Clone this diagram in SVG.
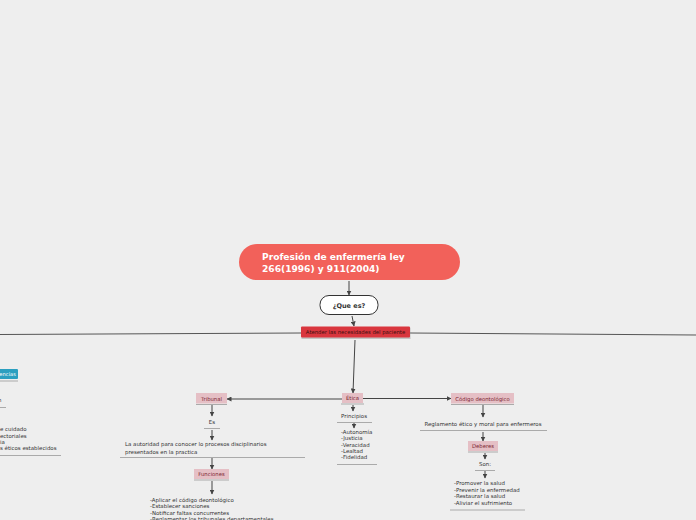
<svg xmlns="http://www.w3.org/2000/svg" width="696" height="520" viewBox="0 0 696 520">
<style>
text{font-family:"DejaVu Sans",Verdana,sans-serif;}
.t{font-size:5.45px;fill:#333;}
.pk{fill:#e5bfc5;}
.pkt{font-size:5.3px;fill:#7a2430;text-anchor:middle;}
.ul{stroke:#aaaaaa;stroke-width:1;fill:none;}
.c{stroke:#444;stroke-width:1;fill:none;marker-end:url(#a);}
.ln{stroke:#555;stroke-width:1;fill:none;}
</style>
<defs>
<marker id="a" viewBox="0 0 10 10" refX="9" refY="5" markerWidth="5" markerHeight="5" orient="auto" markerUnits="userSpaceOnUse">
<path d="M0,0 L10,5 L0,10 z" fill="#444"/>
</marker>
</defs>
<rect width="696" height="520" fill="#eeeeee"/>
<g id="connectors">
<path class="c" d="M349,281 L349,295"/>
<path class="c" d="M352,316 L354,326"/>
<path class="ln" d="M301,333 L0,334.5"/>
<path class="ln" d="M410,333 L696,335"/>
<path class="c" d="M355,340 L353,393"/>
<path class="c" d="M342,399 L227,399"/>
<path class="c" d="M363,398.5 L451,398.5"/>
<path class="c" d="M212,405 L212,416"/>
<path class="c" d="M212,430 L212,440"/>
<path class="c" d="M212,458 L212,469"/>
<path class="c" d="M212,481 L212,494"/>
<path class="c" d="M353,405 L353,411"/>
<path class="c" d="M354,423 L354,428"/>
<path class="c" d="M483,405 L483,417"/>
<path class="c" d="M483,432 L483,441"/>
<path class="c" d="M485,453 L485,459"/>
<path class="c" d="M485,471 L485,478"/>
</g>
<g id="n-title">
<rect x="239" y="244" width="221" height="36" rx="18" fill="#f2615a"/>
<text x="262" y="260" font-size="9.1" font-weight="bold" fill="#fff">Profesión de enfermería ley</text>
<text x="262" y="271.5" font-size="9.1" font-weight="bold" fill="#fff">266(1996) y 911(2004)</text>
</g>
<g id="n-que">
<rect x="320" y="295.5" width="58" height="19" rx="9" fill="#fff" stroke="#333" stroke-width="1"/>
<text x="349" y="307.5" font-size="6.5" font-weight="bold" fill="#333" text-anchor="middle">¿Que es?</text>
</g>
<g id="n-atender">
<rect x="301.5" y="328" width="109" height="11" fill="#999" opacity="0.5"/>
<rect x="301" y="326.5" width="109" height="11" rx="1" fill="#d9363e"/>
<text x="355.5" y="334" font-size="5.3" fill="#3a1010" text-anchor="middle">Atender las necesidades del paciente</text>
</g>
<g id="n-competencias">
<rect x="-5" y="369" width="23" height="10" rx="1" fill="#2b9fc0"/>
<text x="16" y="376" font-size="5.2" fill="#fff" text-anchor="end">Competencias</text>
<path class="ul" d="M0,381 L18,381"/>
<text class="t" x="-2" y="402">n</text>
<path class="ul" d="M0,407.5 L6,407.5"/>
<text class="t" x="0" y="431">e cuidado</text>
<text class="t" x="0" y="437.5">ectoriales</text>
<text class="t" x="0" y="443.5">ia</text>
<text class="t" x="0" y="450">s éticos establecidos</text>
<path class="ul" d="M0,455.5 L61,455.5"/>
</g>
<g id="n-etica">
<rect x="342" y="393" width="21" height="10" class="pk"/>
<path class="ul" d="M341,404 L364,404"/>
<text class="pkt" x="352.5" y="400">Ética</text>
<text class="t" x="354" y="417.5" text-anchor="middle">Principios</text>
<path class="ul" d="M337,422.5 L372,422.5"/>
<text class="t" x="341" y="434">-Autonomía</text>
<text class="t" x="341" y="440">-Justicia</text>
<text class="t" x="341" y="446.5">-Veracidad</text>
<text class="t" x="341" y="452.5">-Lealtad</text>
<text class="t" x="341" y="459">-Fidelidad</text>
<path class="ul" d="M337,464.5 L377,464.5"/>
</g>
<g id="n-tribunal">
<rect x="196" y="393" width="31" height="10.5" class="pk"/>
<path class="ul" d="M196,404.5 L227,404.5"/>
<text class="pkt" x="211.5" y="400.5">Tribunal</text>
<text class="t" x="212" y="423.5" text-anchor="middle">Es</text>
<path class="ul" d="M204,428.5 L220,428.5"/>
<text class="t" x="125" y="446">La autoridad para conocer lo procesos disciplinarios</text>
<text class="t" x="125" y="453.5">presentados en la practica</text>
<path class="ul" d="M120,457.5 L305,457.5"/>
</g>
<g id="n-funciones">
<rect x="194" y="469" width="35" height="10" class="pk"/>
<path class="ul" d="M194,480 L229,480"/>
<text class="pkt" x="211.5" y="476">Funciones</text>
<text class="t" x="150" y="501.5">-Aplicar el código deontológico</text>
<text class="t" x="150" y="508">-Establecer sanciones</text>
<text class="t" x="150" y="514.5">-Notificar faltas concurrentes</text>
<text class="t" x="150" y="521">-Reglamentar los tribunales departamentales</text>
</g>
<g id="n-codigo">
<rect x="451" y="393" width="63" height="10.5" class="pk"/>
<path class="ul" d="M451,404.5 L514,404.5"/>
<text class="pkt" x="482.5" y="400.5">Código deontológico</text>
<text class="t" x="483" y="426" text-anchor="middle">Reglamento ético y moral para enfermeros</text>
<path class="ul" d="M420,430.5 L547,430.5"/>
</g>
<g id="n-deberes">
<rect x="468" y="441" width="30" height="10" class="pk"/>
<path class="ul" d="M468,452 L498,452"/>
<text class="pkt" x="483" y="448">Deberes</text>
<text class="t" x="485" y="466" text-anchor="middle">Son:</text>
<path class="ul" d="M475,470.5 L495,470.5"/>
<text class="t" x="454" y="485">-Promover la salud</text>
<text class="t" x="454" y="491.5">-Prevenir la enfermedad</text>
<text class="t" x="454" y="498">-Restaurar la salud</text>
<text class="t" x="454" y="504.5">-Aliviar el sufrimiento</text>
<path class="ul" d="M450,510 L525,510"/>
</g>
</svg>
